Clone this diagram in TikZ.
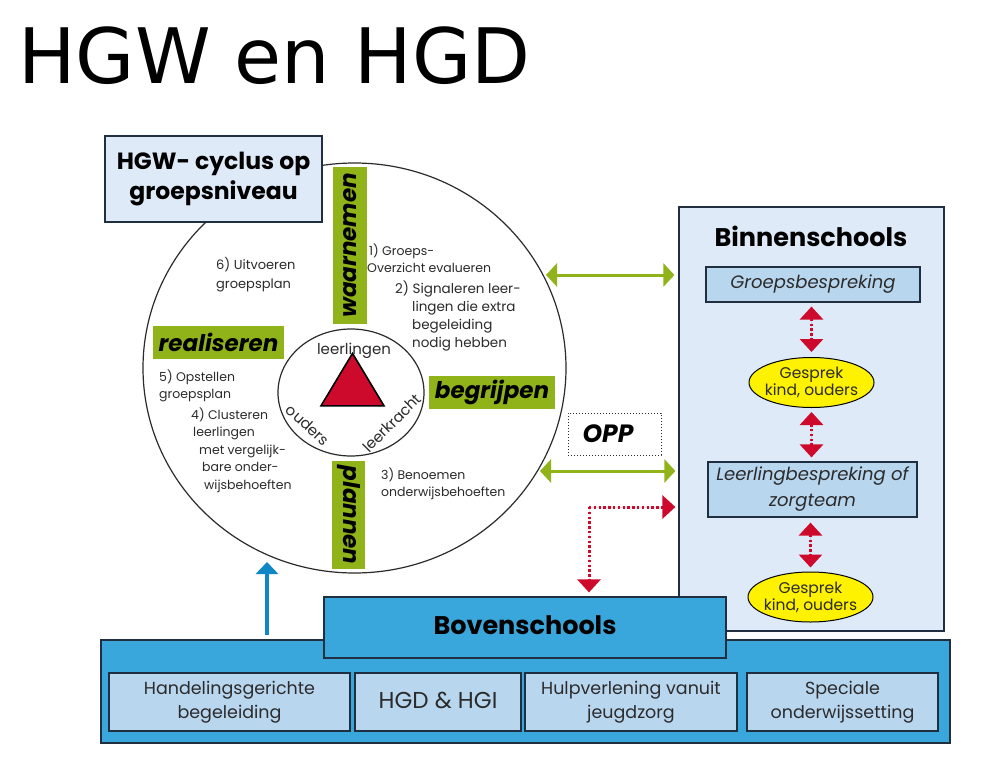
\documentclass[tikz,border=0pt]{standalone}
\usepackage{fontspec}
\setmainfont{Poppins}
\newfontfamily\titlefont{DejaVu Sans}
\usetikzlibrary{arrows.meta,shapes.geometric}
\def\fsize#1#2{\fontsize{#1}{#2}\selectfont}
\definecolor{hgwgreen}{HTML}{8FB318}
\definecolor{hgwred}{HTML}{CE0A2C}
\definecolor{hgwblue}{HTML}{3AA7DC}
\definecolor{hgwarrow}{HTML}{0F86C6}
\definecolor{hgwcell}{HTML}{B9D6EF}
\definecolor{hgwpale}{HTML}{DEEAF7}
\definecolor{hgwtext}{HTML}{2B2B2B}
\definecolor{hgwline}{HTML}{1F2F3F}
\tikzset{
	box/.style={draw=hgwline, line width=1.2pt, inner sep=0pt, align=center, rectangle},
	cell/.style={box, fill=hgwcell, text=hgwtext},
	phase/.style={fill=hgwgreen, inner sep=0pt, font=\fsize{23}{25}\bfseries\itshape},
	talk/.style={draw=black, fill=yellow, line width=1pt, ellipse, inner sep=-6pt, align=center, minimum width=125pt, minimum height=50pt, font=\fsize{15.5}{17}, text=hgwtext},
	step note/.style={anchor=west, inner sep=0pt, align=left, text=hgwtext, font=\fsize{12.5}{17.5}},
	inner word/.style={inner sep=0pt, text=hgwtext, font=\fsize{15}{16}},
	greenarrow/.style={draw=hgwgreen, line width=3pt, {Triangle[width=23pt,length=11pt]}-{Triangle[width=23pt,length=11pt]}},
	reddot/.style={draw=hgwred, fill=hgwred, line width=3pt, dash pattern=on 2.4pt off 2.4pt},
}
\begin{document}
\begin{tikzpicture}[x=1pt, y=-1pt]
			%%%%% START %%%%%
			\useasboundingbox (0,0) rectangle (988,760);
			\fill[white] (0,0) rectangle (988,760);
			
			\node[anchor=base west, inner sep=0pt, font=\titlefont\fsize{76.5}{80}] (title) at (18,84) {HGW en HGD};
			
			\node[draw=hgwtext, fill=white, line width=1.2pt, ellipse, inner sep=0pt, minimum width=423pt, minimum height=410pt] (outer) at (354.5,368) {};
			\node[box, fill=hgwpale, minimum width=217pt, minimum height=86pt, font=\fsize{23.5}{30}\bfseries] (cyclus) at (213.5,179) {HGW- cyclus op\\groepsniveau};
			
			\node[phase, rotate=90, minimum width=157pt, minimum height=34pt] (waarnemen) at (350,245.5) {waarnemen};
			\node[phase, minimum width=131pt, minimum height=33pt] (realiseren) at (218.5,342.5) {realiseren};
			\node[phase, minimum width=126pt, minimum height=33pt] (begrijpen) at (492,392.5) {begrijpen};
			\node[phase, rotate=-90, minimum width=108pt, minimum height=33pt] (plannen) at (348.5,515) {plannen};
			
			\node[draw=hgwtext, fill=white, line width=1.2pt, ellipse, inner sep=0pt, minimum width=146pt, minimum height=127pt] (inner) at (351,392.5) {};
			\node[draw=black, fill=hgwred, line width=1.6pt, isosceles triangle, isosceles triangle apex angle=62, shape border rotate=90, inner sep=0pt, minimum height=52pt, minimum width=63pt] (triangle) at (352.5,388) {};
			\node[inner word] (leerlingen) at (354,351) {leerlingen};
			\node[inner word, rotate=-42] (ouders) at (308,425) {ouders};
			\node[inner word, rotate=45] (leerkracht) at (392,423) {leerkracht};
			
			\node[step note] (stepone) at (367,258) {\hspace*{2pt}1) Groeps-\\Overzicht evalueren};
			\node[step note, font=\fsize{13.5}{18}] (steptwo) at (395,316) {2) Signaleren leer-\\\hspace*{17pt}lingen die extra\\\hspace*{17pt}begeleiding\\\hspace*{17pt}nodig hebben};
			\node[step note] (stepthree) at (381,484) {3) Benoemen\\onderwijsbehoeften};
			\node[step note] (stepfour) at (191,450) {4) Clusteren\\\hspace*{2pt}leerlingen\\\hspace*{8pt}met vergelijk-\\\hspace*{11pt}bare onder-\\\hspace*{13pt}wijsbehoeften};
			\node[step note] (stepfive) at (159,386) {5) Opstellen\\groepsplan};
			\node[step note, font=\fsize{13}{19}] (stepsix) at (216,275) {6) Uitvoeren\\groepsplan};
			
			\node[draw=hgwtext, line width=1pt, dotted, minimum width=93pt, minimum height=42pt, inner sep=0pt, font=\fsize{25}{27}\bfseries\itshape] (opp) at (614.5,434) {\hspace*{-13pt}OPP};
			
			\node[box, fill=hgwpale, minimum width=265pt, minimum height=424pt] (binnen) at (811.5,419) {};
			\node[inner sep=0pt, font=\fsize{25.5}{28}\bfseries] (binnentitle) at (811,236) {Binnenschools};
			\node[cell, minimum width=214pt, minimum height=35pt, font=\fsize{18}{22}\itshape] (groeps) at (813,284.5) {Groepsbespreking};
			\node[talk] (gesprekA) at (811.5,382.5) {Gesprek\\kind, ouders};
			\node[cell, minimum width=209pt, minimum height=55pt, font=\fsize{18}{26}\itshape] (leerling) at (812.5,489.5) {Leerlingbespreking of\\zorgteam};
			\node[talk] (gesprekB) at (810.5,597) {Gesprek\\kind, ouders};
			
			\node[box, fill=hgwblue, minimum width=849pt, minimum height=103pt] (band) at (525.5,691.5) {};
			\node[box, fill=hgwblue, minimum width=402pt, minimum height=61pt, font=\fsize{25.5}{28}\bfseries] (boven) at (525,627.5) {\raisebox{5pt}{Bovenschools}};
			\node[cell, minimum width=241pt, minimum height=58pt, font=\fsize{17.5}{24}] (handeling) at (229.5,702) {Handelingsgerichte\\begeleiding};
			\node[cell, minimum width=166pt, minimum height=58pt, font=\fsize{23}{25}] (hgd) at (438,702) {\raisebox{3pt}{HGD \& HGI}};
			\node[cell, minimum width=212pt, minimum height=58pt, font=\fsize{17.5}{24}] (hulp) at (631,702) {Hulpverlening vanuit\\jeugdzorg};
			\node[cell, minimum width=191pt, minimum height=58pt, font=\fsize{17.5}{24}] (speciaal) at (842.5,702) {Speciale\\onderwijssetting};
			
			\coordinate (greenA) at (546,275);
			\coordinate (greenB) at (540,471);
			\coordinate (elbow) at (589,507);
			\coordinate (blueTip) at (267,562);
			
			\draw[greenarrow, shorten >=4pt] (greenA) -- (binnen.west |- greenA);
			\draw[greenarrow, shorten >=3pt] (greenB) -- (binnen.west |- greenB);
			
			\draw[reddot, {Triangle[width=23pt,length=13pt]}-{Triangle[width=23pt,length=13pt]}, shorten <=4pt, shorten >=5pt] (gesprekA.north |- groeps.south) -- (gesprekA.north);
			\draw[reddot, {Triangle[width=23pt,length=13pt]}-{Triangle[width=23pt,length=13pt]}, shorten <=4pt, shorten >=4pt] (gesprekA.south) -- (gesprekA.south |- leerling.north);
			\draw[reddot, {Triangle[width=23pt,length=13pt]}-{Triangle[width=23pt,length=13pt]}, shorten <=5pt, shorten >=4pt] (gesprekB.north |- leerling.south) -- (gesprekB.north);
			\draw[reddot, -{Triangle[width=23pt,length=13pt]}, shorten >=3pt] (elbow) -- (binnen.west |- elbow);
			\draw[reddot, -{Triangle[width=23pt,length=13pt]}, shorten >=4pt] (elbow) -- (boven.north -| elbow);
			
			\draw[draw=hgwarrow, line width=4.5pt, -{Triangle[width=22pt,length=12pt]}, shorten <=4pt] (band.north -| blueTip) -- (blueTip);
			
			%%%%% END %%%%%
		\end{tikzpicture}
\end{document}
